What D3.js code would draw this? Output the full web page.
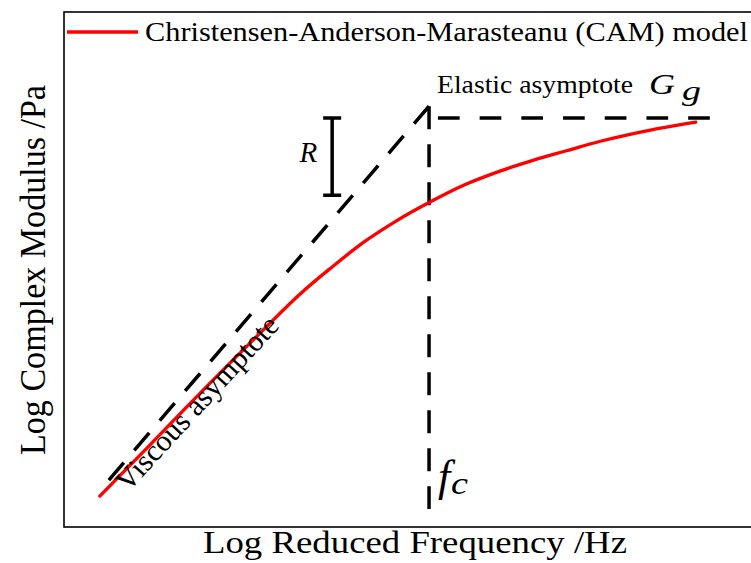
<!DOCTYPE html>
<html>
<head>
<meta charset="utf-8">
<script src="https://cdn.jsdelivr.net/npm/d3@7"></script>
<style>
  html, body { margin: 0; padding: 0; background: #fff; }
  svg { display: block; }
  text { font-family: "Liberation Serif", "Times New Roman", Times, serif; fill: #000; }
</style>
</head>
<body>
<svg id="chart" width="751" height="563"></svg>
<script>
// CAM master curve: log reduced frequency vs. log complex modulus (arbitrary log units)
const logFrequency = [-4.69, -3.97, -3.26, -2.55, -1.84, -1.38, -0.93, -0.47, 0, 0.50, 1.01, 1.48, 1.97, 2.44, 2.91, 3.36, 3.80];
const logModulus   = [0.60, 1.60, 2.60, 3.57, 4.52, 5.05, 5.53, 5.94, 6.30, 6.64, 6.91, 7.12, 7.31, 7.49, 7.64, 7.76, 7.86];

// Asymptotes and characteristic values
const crossoverFrequency = 0;      // f_c
const glassyModulus = 7.94;        // G_g (elastic asymptote)
const elasticEnd = 4.00;           // right end of the elastic asymptote
const viscousStart = [-4.60, 0.85];// lower end of the viscous asymptote
const viscousApex = 8.17;          // viscous asymptote value at f_c
const crossoverLineBottom = 0.35;  // lower end of the f_c line
const rBracket = { x: -1.38, top: 7.94, bottom: 6.44 };

const legendLabel = "Christensen-Anderson-Marasteanu (CAM) model";
const xTitle = "Log Reduced Frequency /Hz";
const yTitle = "Log Complex Modulus /Pa";

const svg = d3.select("#chart");
const plot = { left: 64, right: 766, top: 12, bottom: 527 };

const x = d3.scaleLinear().domain([-5.2, 4.8]).range([plot.left, plot.right]);
const y = d3.scaleLinear().domain([0, 10]).range([plot.bottom, plot.top]);

// axes frame (no ticks)
svg.append("rect")
  .attr("x", plot.left).attr("y", plot.top)
  .attr("width", plot.right - plot.left).attr("height", plot.bottom - plot.top)
  .attr("fill", "none").attr("stroke", "#000").attr("stroke-width", 1.6);

const lineGen = d3.line().x(d => x(d[0])).y(d => y(d[1]));
function dashed(points, pattern) {
  svg.append("path")
    .attr("d", lineGen(points))
    .attr("fill", "none").attr("stroke", "#000").attr("stroke-width", 3.5)
    .attr("stroke-dasharray", pattern);
}

// viscous asymptote (from the apex downwards)
dashed([[crossoverFrequency, viscousApex], viscousStart], "23,16.1");
// f_c vertical line
dashed([[crossoverFrequency, viscousApex], [crossoverFrequency, crossoverLineBottom]], "23,15");
// elastic asymptote (from the right end)
dashed([[elasticEnd, glassyModulus], [crossoverFrequency, glassyModulus]], "21.7,20");

// R bracket
const rx = x(rBracket.x);
svg.append("path")
  .attr("d", `M${rx},${y(rBracket.top)}V${y(rBracket.bottom)}` +
             `M${rx - 9},${y(rBracket.top)}H${rx + 9}` +
             `M${rx - 9},${y(rBracket.bottom)}H${rx + 9}`)
  .attr("fill", "none").attr("stroke", "#000").attr("stroke-width", 3.5);
svg.append("text")
  .attr("x", rx - 15).attr("y", 162)
  .attr("text-anchor", "end")
  .attr("font-size", 29).attr("font-style", "italic")
  .text("R");

// CAM curve
const curveData = logFrequency.map((f, i) => [f, logModulus[i]]);
svg.append("path")
  .attr("d", d3.line().x(d => x(d[0])).y(d => y(d[1])).curve(d3.curveCatmullRom)(curveData))
  .attr("fill", "none").attr("stroke", "#ff0000").attr("stroke-width", 3.3)
  .attr("stroke-linecap", "round");

// Elastic asymptote label
svg.append("text").attr("x", 437).attr("y", 93).attr("font-size", 26)
  .attr("textLength", 196).attr("lengthAdjust", "spacingAndGlyphs")
  .text("Elastic asymptote");
svg.append("text").attr("x", 649).attr("y", 94).attr("font-size", 29)
  .attr("font-style", "italic")
  .attr("textLength", 26).attr("lengthAdjust", "spacingAndGlyphs")
  .text("G");
svg.append("text").attr("x", 682).attr("y", 100).attr("font-size", 28)
  .attr("font-style", "italic")
  .attr("textLength", 19).attr("lengthAdjust", "spacingAndGlyphs")
  .text("g");

// f_c label
svg.append("text").attr("x", 438).attr("y", 491).attr("font-size", 44)
  .attr("font-style", "italic").text("f");
svg.append("text").attr("x", 451).attr("y", 494).attr("font-size", 32)
  .attr("font-style", "italic")
  .attr("textLength", 17).attr("lengthAdjust", "spacingAndGlyphs")
  .text("c");

// Viscous asymptote label
svg.append("text")
  .attr("transform", "translate(128,493) rotate(-47.5)")
  .attr("font-size", 30)
  .text("Viscous asymptote");

// legend
svg.append("line")
  .attr("x1", 67).attr("x2", 138).attr("y1", 32).attr("y2", 32)
  .attr("stroke", "#ff0000").attr("stroke-width", 3.5);
svg.append("text")
  .attr("x", 145).attr("y", 40.5).attr("font-size", 27)
  .attr("textLength", 603).attr("lengthAdjust", "spacingAndGlyphs")
  .text(legendLabel);

// axis titles
svg.append("text")
  .attr("x", 203).attr("y", 553).attr("font-size", 32)
  .attr("textLength", 424).attr("lengthAdjust", "spacingAndGlyphs")
  .text(xTitle);
svg.append("text")
  .attr("transform", "translate(45,455) scale(1.12,1) rotate(-90)")
  .attr("font-size", 32)
  .attr("textLength", 370).attr("lengthAdjust", "spacingAndGlyphs")
  .text(yTitle);
</script>
</body>
</html>
